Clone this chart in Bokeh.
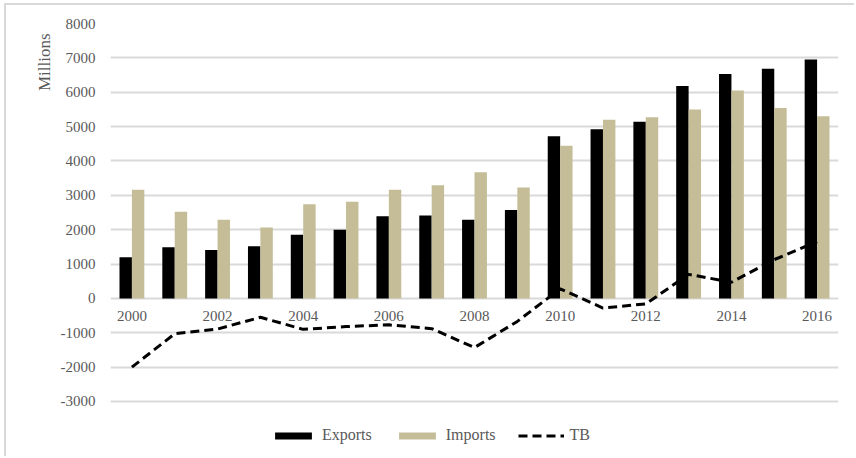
import numpy as np
from bokeh.plotting import figure
from bokeh.models import (ColumnDataSource, Range1d, FixedTicker, Legend, LegendItem,
                          Title)
from bokeh.transform import dodge
from bokeh.core.properties import value
from bokeh.embed import file_html
from bokeh.resources import INLINE

years = [2000, 2001, 2002, 2003, 2004, 2005, 2006, 2007, 2008,
         2009, 2010, 2011, 2012, 2013, 2014, 2015, 2016]
exports = [1200, 1490, 1410, 1520, 1850, 2000, 2390, 2410, 2290,
           2570, 4720, 4920, 5140, 6180, 6530, 6680, 6950]
imports = [3160, 2520, 2290, 2060, 2740, 2810, 3160, 3290, 3670,
           3230, 4440, 5200, 5270, 5500, 6050, 5540, 5300]
tb = [-2000, -1030, -890, -550, -900, -820, -770, -880, -1430,
      -670, 280, -280, -160, 700, 470, 1130, 1650]
label_years = [2000, 2002, 2004, 2006, 2008, 2010, 2012, 2014, 2016]
label_texts = [str(y) for y in label_years]
y_ticks = [-3000, -2000, -1000, 0, 1000, 2000, 3000, 4000, 5000, 6000, 7000, 8000]
y_tick_texts = ["-3000", "-2000", "-1000", "0", "1000", "2000", "3000", "4000",
                "5000", "6000", "7000", "8000"]

FONT = "Liberation Serif"
GRAY = "#595959"
GRID = "#d9d9d9"

src = ColumnDataSource(dict(year=years, exports=exports, imports=imports, tb=tb))
lab = ColumnDataSource(dict(x=label_years, y=[0] * len(label_years), t=label_texts))

# frame extends below -3000 so the legend sits inside it (same scale as -3000..8000)
p = figure(width=850, height=453, output_backend="svg", toolbar_location=None,
           x_range=Range1d(1999.5, 2016.5), y_range=Range1d(-4426, 8000),
           min_border_left=104, min_border_right=18, min_border_top=18,
           min_border_bottom=8)
p.styles = {"margin-left": "4px", "margin-top": "3px",
            "border-left": "2px solid #d9d9d9", "border-top": "2px solid #d9d9d9"}
p.outline_line_color = None
p.background_fill_color = "white"
p.border_fill_color = "white"

p.xaxis.visible = False
p.xgrid.visible = False

p.ygrid.grid_line_color = GRID
p.ygrid.grid_line_width = 2
p.yaxis.ticker = FixedTicker(ticks=y_ticks)
p.yaxis.major_label_overrides = dict(zip(y_ticks, y_tick_texts))
p.yaxis.axis_line_color = None
p.yaxis.major_tick_line_color = None
p.yaxis.minor_tick_line_color = None
p.yaxis.major_tick_out = 0
p.yaxis.major_tick_in = 0
p.yaxis.major_label_standoff = 15
p.yaxis.major_label_text_font = FONT
p.yaxis.major_label_text_font_size = "15px"
p.yaxis.major_label_text_color = GRAY

bx = p.vbar(x=dodge("year", -0.145, range=p.x_range), top="exports", bottom=0,
            width=0.29, source=src, fill_color="#000000", line_color=None)
bm = p.vbar(x=dodge("year", 0.145, range=p.x_range), top="imports", bottom=0,
            width=0.29, source=src, fill_color="#c4bd97", line_color=None)
ln = p.line(x="year", y="tb", source=src, line_color="#000000", line_width=3,
            line_dash="9 5")

p.text(x="x", y="y", text="t", source=lab, text_font=value(FONT),
       text_font_size="15px", text_color=GRAY, text_align="center",
       text_baseline="middle", y_offset=18)

p.add_layout(Title(text="Millions", align="right", text_font=FONT,
                   text_font_size="17px", text_color=GRAY,
                   text_font_style="normal", offset=10, standoff=8), "left")

legend = Legend(items=[LegendItem(label="Exports", renderers=[bx]),
                       LegendItem(label="Imports", renderers=[bm]),
                       LegendItem(label="TB", renderers=[ln])],
                orientation="horizontal", location=(160, 6),
                glyph_width=46, glyph_height=9, label_standoff=6, spacing=22,
                label_height=18, padding=0, margin=0, border_line_color=None,
                background_fill_alpha=0,
                label_text_font=FONT, label_text_font_size="16px",
                label_text_color=GRAY)
p.add_layout(legend, "center")

open("out.html", "w").write(file_html(p, INLINE))
